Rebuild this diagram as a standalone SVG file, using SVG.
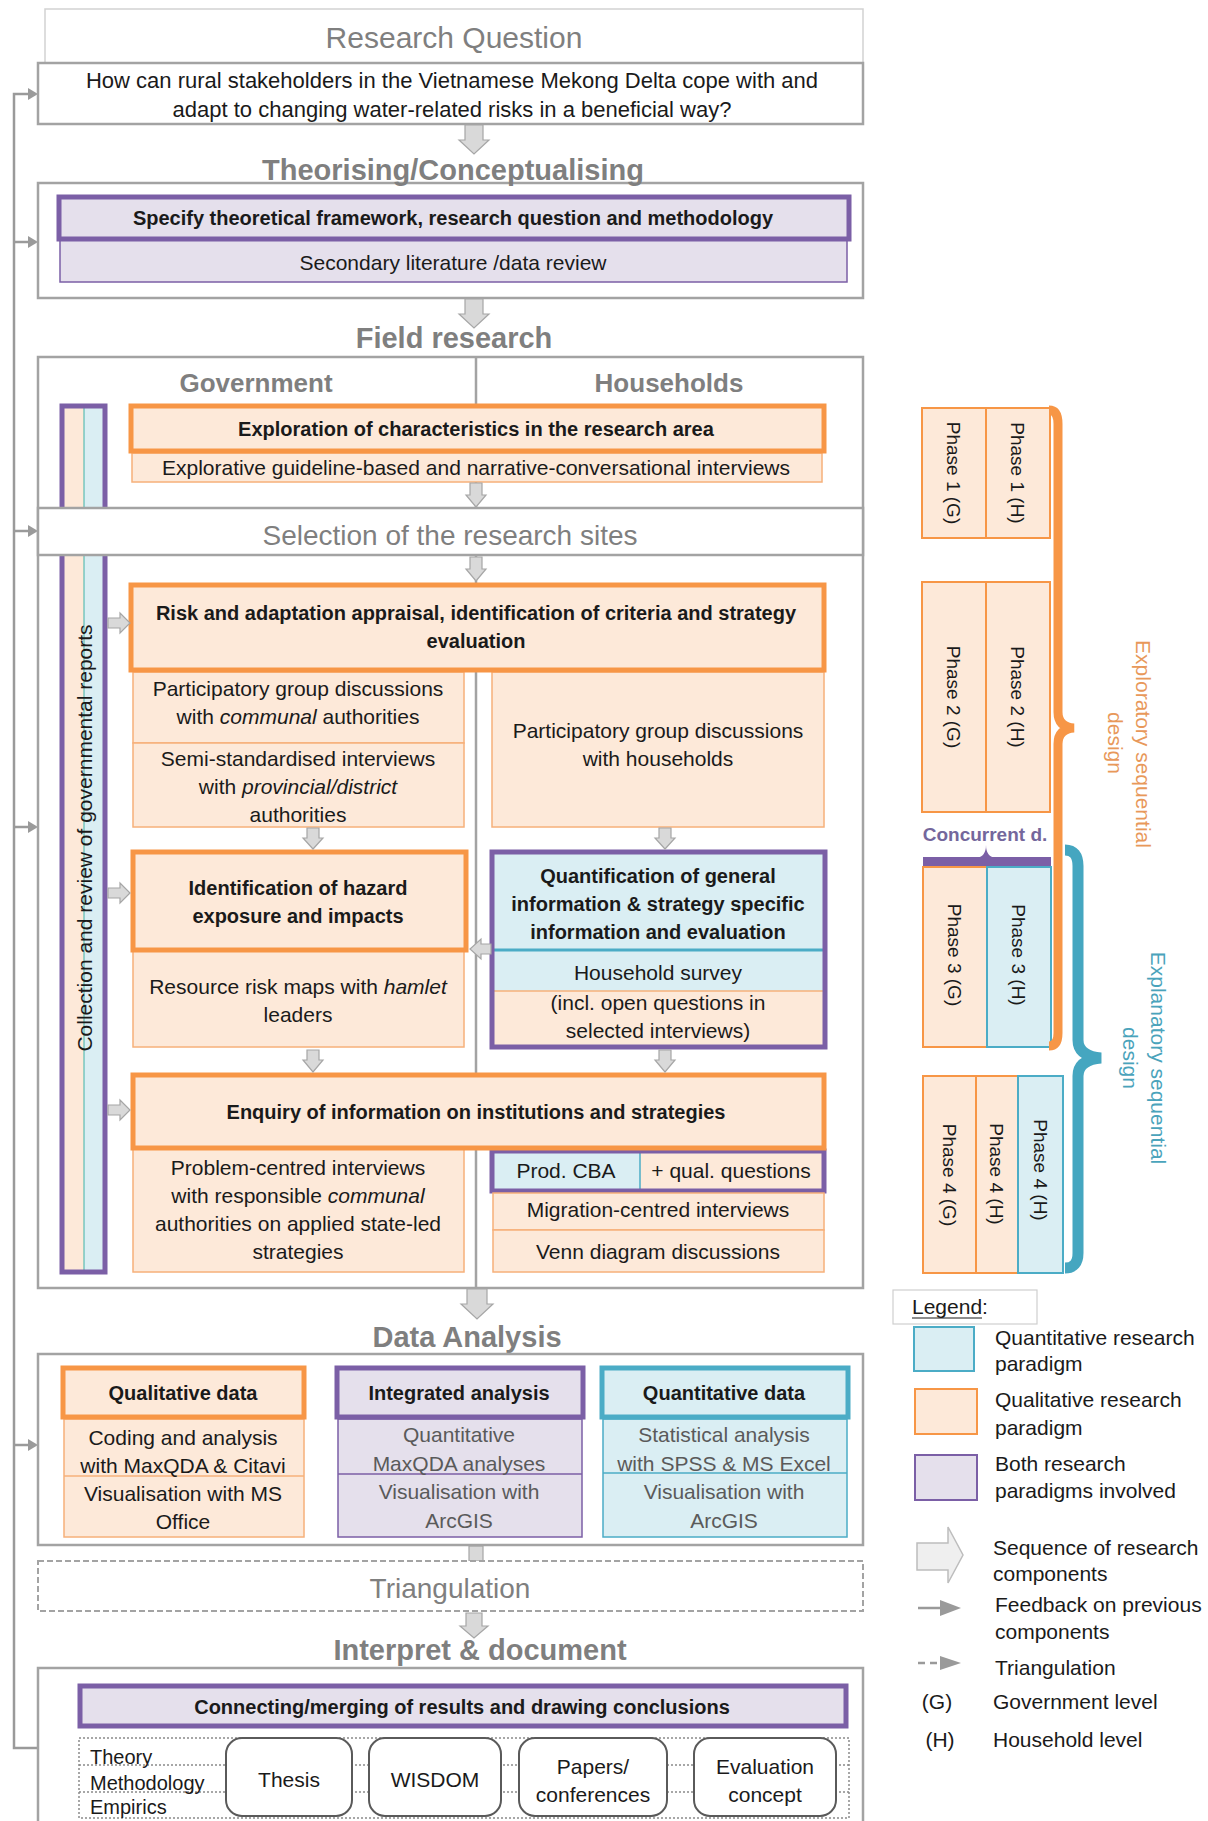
<svg xmlns="http://www.w3.org/2000/svg" width="1208" height="1821" viewBox="0 0 1208 1821">
<style>
text{font-family:"Liberation Sans",Arial,sans-serif;fill:#1a1a1a;text-anchor:middle}
.t{font-size:21px}
.b{font-size:20px;font-weight:bold}
.h{font-size:29px;font-weight:bold;fill:#7f7f7f}
.hr{font-size:29px;fill:#7f7f7f}
.hs{font-size:26px;font-weight:bold;fill:#7f7f7f}
.g{fill:#5a5a5a}
.ph{font-size:19px}
.lg{font-size:21px;text-anchor:start}
.box{fill:#fff;stroke:#a3a3a3;stroke-width:2.5}
.ohd{fill:#fde9d9;stroke:#f79646;stroke-width:5}
.osub{fill:#fde9d9;stroke:#f6b07a;stroke-width:1.5}
.phd{fill:#e5e0ec;stroke:#7b5fa6;stroke-width:5}
.psub{fill:#e5e0ec;stroke:#7b5fa6;stroke-width:1.5}
.bhd{fill:#daeef3;stroke:#4bacc6;stroke-width:5}
.bsub{fill:#daeef3;stroke:#4bacc6;stroke-width:1.5}
.arr{fill:#d9d9d9;stroke:#a6a6a6;stroke-width:1.2}
.fb{fill:none;stroke:#9a9a9a;stroke-width:2.5}
.fbh{fill:#9a9a9a}
.pho{fill:#fde9d9;stroke:#f79646;stroke-width:2}
.phb{fill:#daeef3;stroke:#4bacc6;stroke-width:2}
.rb{fill:#fff;stroke:#5a5a5a;stroke-width:2}
.dot{fill:none;stroke:#8a8a8a;stroke-width:1.5;stroke-dasharray:2 2}
</style>

<g id="connectors">
  <path class="fb" d="M38,1748 H14 V94 H30 M14,242 H30 M14,531 H30 M14,827 H30 M14,1445 H30"/>
  <polygon class="fbh" points="28,88 38,94 28,100"/>
  <polygon class="fbh" points="28,236 38,242 28,248"/>
  <polygon class="fbh" points="28,525 38,531 28,537"/>
  <polygon class="fbh" points="28,821 38,827 28,833"/>
  <polygon class="fbh" points="28,1439 38,1445 28,1451"/>
</g>

<g id="research-question">
  <rect x="45" y="9" width="818" height="54" fill="#fff" stroke="#d2d2d2" stroke-width="1.5"/>
  <text class="hr" x="454" y="48" style="font-size:30px">Research Question</text>
  <rect class="box" x="38" y="63" width="825" height="61"/>
  <text class="t" x="452" y="88" style="font-size:22px">How can rural stakeholders in the Vietnamese Mekong Delta cope with and</text>
  <text class="t" x="452" y="117" style="font-size:22px">adapt to changing water-related risks in a beneficial way?</text>
</g>

<g id="theorising">
  <rect class="box" x="38" y="183" width="825" height="115"/>
  <text class="h" x="453" y="180">Theorising/Conceptualising</text>
  <rect class="psub" x="60" y="240" width="787" height="42"/>
  <rect class="phd" x="59" y="197" width="790" height="42"/>
  <text class="b" x="453" y="225">Specify theoretical framework, research question and methodology</text>
  <text class="t" x="453" y="270">Secondary literature /data review</text>
</g>

<g id="field-research">
  <text class="h" x="454" y="348">Field research</text>
  <rect class="box" x="38" y="357" width="825" height="931"/>
  <line x1="476" y1="357" x2="476" y2="1288" stroke="#a3a3a3" stroke-width="2.5"/>
  <text class="hs" x="256" y="392">Government</text>
  <text class="hs" x="669" y="392">Households</text>
</g>

<g id="collection-bar">
  <rect x="63" y="407" width="21" height="864" fill="#fde9d9"/>
  <rect x="84" y="407" width="20" height="864" fill="#daeef3"/>
  <line x1="84" y1="407" x2="84" y2="1271" stroke="#3fb2a8" stroke-width="1"/>
  <rect x="62" y="406" width="43" height="866" fill="none" stroke="#7b5fa6" stroke-width="5"/>
  <text class="t" transform="translate(84,838) rotate(-90)" x="0" y="7.5">Collection and review of governmental reports</text>
</g>

<g id="exploration">
  <rect class="osub" x="132" y="453" width="690" height="29"/>
  <rect class="ohd" x="131" y="406" width="693" height="45"/>
  <text class="b" x="476" y="436">Exploration of characteristics in the research area</text>
  <text class="t" x="476" y="475">Explorative guideline-based and narrative-conversational interviews</text>
</g>

<g id="selection">
  <rect class="box" x="38" y="508" width="825" height="47"/>
  <text class="hr" x="450" y="545" style="font-size:28px">Selection of the research sites</text>
</g>

<g id="risk">
  <rect class="osub" x="133" y="672" width="331" height="71"/>
  <rect class="osub" x="133" y="743" width="331" height="84"/>
  <rect class="osub" x="492" y="672" width="332" height="155"/>
  <rect class="ohd" x="131" y="585" width="693" height="85"/>
  <text class="b" x="476" y="620">Risk and adaptation appraisal, identification of criteria and strategy</text>
  <text class="b" x="476" y="648">evaluation</text>
  <text class="t" x="298" y="696">Participatory group discussions</text>
  <text class="t" x="298" y="724">with <tspan font-style="italic">communal</tspan> authorities</text>
  <text class="t" x="298" y="766">Semi-standardised interviews</text>
  <text class="t" x="298" y="794">with <tspan font-style="italic">provincial/district</tspan></text>
  <text class="t" x="298" y="822">authorities</text>
  <text class="t" x="658" y="738">Participatory group discussions</text>
  <text class="t" x="658" y="766">with households</text>
</g>

<g id="identification">
  <rect class="osub" x="133" y="951" width="331" height="96"/>
  <rect class="ohd" x="133" y="852" width="333" height="98"/>
  <text class="b" x="298" y="895">Identification of hazard</text>
  <text class="b" x="298" y="923">exposure and impacts</text>
  <text class="t" x="298" y="994">Resource risk maps with <tspan font-style="italic">hamlet</tspan></text>
  <text class="t" x="298" y="1022">leaders</text>
</g>

<g id="quantification">
  <rect x="494" y="854" width="329" height="96" fill="#daeef3"/>
  <rect x="494" y="950" width="329" height="41" fill="#daeef3"/>
  <rect x="494" y="991" width="329" height="54" fill="#fde9d9"/>
  <line x1="494" y1="950" x2="823" y2="950" stroke="#4bacc6" stroke-width="3"/>
  <line x1="494" y1="991" x2="823" y2="991" stroke="#f6b07a" stroke-width="1.5"/>
  <rect x="492" y="852" width="333" height="195" fill="none" stroke="#7b5fa6" stroke-width="5"/>
  <text class="b" x="658" y="883">Quantification of general</text>
  <text class="b" x="658" y="911">information &amp; strategy specific</text>
  <text class="b" x="658" y="939">information and evaluation</text>
  <text class="t" x="658" y="980">Household survey</text>
  <text class="t" x="658" y="1010">(incl. open questions in</text>
  <text class="t" x="658" y="1038">selected interviews)</text>
</g>

<g id="enquiry">
  <rect class="osub" x="133" y="1149" width="331" height="123"/>
  <rect x="493" y="1152" width="147" height="38" fill="#daeef3"/>
  <rect x="640" y="1152" width="183" height="38" fill="#fde9d9"/>
  <line x1="640" y1="1152" x2="640" y2="1190" stroke="#4bacc6" stroke-width="1.5"/>
  <rect x="492" y="1151" width="332" height="40" fill="none" stroke="#7b5fa6" stroke-width="5"/>
  <rect class="osub" x="493" y="1193" width="331" height="37"/>
  <rect class="osub" x="493" y="1230" width="331" height="42"/>
  <rect class="ohd" x="133" y="1075" width="691" height="73"/>
  <text class="b" x="476" y="1119">Enquiry of information on institutions and strategies</text>
  <text class="t" x="298" y="1175">Problem-centred interviews</text>
  <text class="t" x="298" y="1203">with responsible <tspan font-style="italic">communal</tspan></text>
  <text class="t" x="298" y="1231">authorities on applied  state-led</text>
  <text class="t" x="298" y="1259">strategies</text>
  <text class="t" x="566" y="1178">Prod. CBA</text>
  <text class="t" x="731" y="1178">+ qual. questions</text>
  <text class="t" x="658" y="1217">Migration-centred interviews</text>
  <text class="t" x="658" y="1259">Venn diagram discussions</text>
</g>

<g id="block-arrows">
  <path class="arr" d="M465,125 H483 V140 H489 L474,154 L459,140 H465 Z"/>
  <path class="arr" d="M465,299 H483 V314 H489 L474,328 L459,314 H465 Z"/>
  <path class="arr" d="M470,483 H482 V495 H486 L476,507 L466,495 H470 Z"/>
  <path class="arr" d="M470,557 H482 V569 H486 L476,581 L466,569 H470 Z"/>
  <path class="arr" d="M307,828 H319 V838 H323 L313,849 L303,838 H307 Z"/>
  <path class="arr" d="M659,828 H671 V838 H675 L665,849 L655,838 H659 Z"/>
  <path class="arr" d="M307,1050 H319 V1060 H323 L313,1072 L303,1060 H307 Z"/>
  <path class="arr" d="M659,1050 H671 V1060 H675 L665,1072 L655,1060 H659 Z"/>
  <path class="arr" d="M108,618 H120 V613 L130,623 L120,633 V628 H108 Z"/>
  <path class="arr" d="M108,888 H120 V883 L130,893 L120,903 V898 H108 Z"/>
  <path class="arr" d="M108,1105 H120 V1100 L130,1110 L120,1120 V1115 H108 Z"/>
  <path class="arr" d="M491,944 H481 V939 L470,949 L481,959 V954 H491 Z"/>
  <path class="arr" d="M467,1289 H487 V1304 H493 L477,1319 L461,1304 H467 Z"/>
  <rect class="arr" x="469" y="1546" width="14" height="15"/>
  <path class="arr" d="M466,1613 H482 V1626 H488 L474,1638 L460,1626 H466 Z"/>
</g>

<g id="data-analysis">
  <text class="h" x="467" y="1347">Data Analysis</text>
  <rect class="box" x="38" y="1354" width="825" height="191"/>
  <rect class="osub" x="64" y="1419" width="240" height="118"/>
  <line x1="64" y1="1476" x2="304" y2="1476" stroke="#f6b07a" stroke-width="1.5"/>
  <rect class="ohd" x="63" y="1368" width="241" height="49"/>
  <text class="b" x="183" y="1400">Qualitative data</text>
  <text class="t" x="183" y="1445">Coding and analysis</text>
  <text class="t" x="183" y="1473">with MaxQDA &amp; Citavi</text>
  <text class="t" x="183" y="1501">Visualisation with MS</text>
  <text class="t" x="183" y="1529">Office</text>

  <rect class="psub" x="338" y="1419" width="244" height="118"/>
  <line x1="338" y1="1474" x2="582" y2="1474" stroke="#7b5fa6" stroke-width="1.5"/>
  <rect class="phd" x="337" y="1368" width="246" height="49"/>
  <text class="b" x="459" y="1400">Integrated analysis</text>
  <text class="t g" x="459" y="1442">Quantitative</text>
  <text class="t g" x="459" y="1471">MaxQDA analyses</text>
  <text class="t g" x="459" y="1499">Visualisation with</text>
  <text class="t g" x="459" y="1528">ArcGIS</text>

  <rect class="bsub" x="603" y="1419" width="244" height="118"/>
  <line x1="603" y1="1473" x2="847" y2="1473" stroke="#4bacc6" stroke-width="1.5"/>
  <rect class="bhd" x="602" y="1368" width="246" height="49"/>
  <text class="b" x="724" y="1400">Quantitative data</text>
  <text class="t g" x="724" y="1442">Statistical analysis</text>
  <text class="t g" x="724" y="1471">with SPSS &amp; MS Excel</text>
  <text class="t g" x="724" y="1499">Visualisation with</text>
  <text class="t g" x="724" y="1528">ArcGIS</text>
</g>

<g id="triangulation">
  <rect x="38" y="1561" width="825" height="50" fill="#fff" stroke="#a3a3a3" stroke-width="2" stroke-dasharray="6 3"/>
  <text class="hr" x="450" y="1598" style="font-size:28px">Triangulation</text>
</g>

<g id="interpret">
  <text class="h" x="480" y="1660">Interpret &amp; document</text>
  <rect class="box" x="38" y="1668" width="825" height="170"/>
  <rect class="phd" x="80" y="1686" width="766" height="40"/>
  <text class="b" x="462" y="1714">Connecting/merging of results and drawing conclusions</text>
  <rect class="dot" x="79" y="1738" width="770" height="80"/>
  <line class="dot" x1="79" y1="1765" x2="849" y2="1765"/>
  <line class="dot" x1="79" y1="1792" x2="849" y2="1792"/>
  <text class="t" x="90" y="1764" style="text-anchor:start;font-size:20px" fill="#333">Theory</text>
  <text class="t" x="90" y="1790" style="text-anchor:start;font-size:20px">Methodology</text>
  <text class="t" x="90" y="1814" style="text-anchor:start;font-size:20px">Empirics</text>
  <rect class="rb" x="226" y="1738" width="126" height="78" rx="16"/>
  <text class="t" x="289" y="1787">Thesis</text>
  <rect class="rb" x="369" y="1738" width="132" height="78" rx="16"/>
  <text class="t" x="435" y="1787">WISDOM</text>
  <rect class="rb" x="519" y="1738" width="148" height="78" rx="16"/>
  <text class="t" x="593" y="1774">Papers/</text>
  <text class="t" x="593" y="1802">conferences</text>
  <rect class="rb" x="694" y="1738" width="142" height="78" rx="16"/>
  <text class="t" x="765" y="1774">Evaluation</text>
  <text class="t" x="765" y="1802">concept</text>
</g>

<g id="phase-1">
  <rect class="pho" x="922" y="408" width="64" height="130"/>
  <rect class="pho" x="986" y="408" width="64" height="130"/>
  <text class="ph" transform="translate(954,473) rotate(90)" y="7">Phase 1 (G)</text>
  <text class="ph" transform="translate(1018,473) rotate(90)" y="7">Phase 1 (H)</text>
</g>
<g id="phase-2">
  <rect class="pho" x="922" y="582" width="64" height="230"/>
  <rect class="pho" x="986" y="582" width="64" height="230"/>
  <text class="ph" transform="translate(954,697) rotate(90)" y="7">Phase 2 (G)</text>
  <text class="ph" transform="translate(1018,697) rotate(90)" y="7">Phase 2 (H)</text>
</g>
<g id="concurrent">
  <text x="985" y="841" style="font-size:19px;font-weight:bold;fill:#74679c">Concurrent d.</text>
  <rect x="923" y="857" width="128" height="10" fill="#7b5fa6"/>
  <path d="M976,858 Q986,857 986,845 Q986,857 996,858 Z" fill="#7b5fa6"/>
</g>
<g id="phase-3">
  <rect class="pho" x="923" y="867" width="64" height="180"/>
  <rect class="phb" x="987" y="867" width="64" height="180"/>
  <text class="ph" transform="translate(955,955) rotate(90)" y="7">Phase 3 (G)</text>
  <text class="ph" transform="translate(1019,955) rotate(90)" y="7">Phase 3 (H)</text>
</g>
<g id="phase-4">
  <rect class="pho" x="923" y="1076" width="53" height="197"/>
  <rect class="pho" x="976" y="1076" width="42" height="197"/>
  <rect class="phb" x="1018" y="1076" width="45" height="197"/>
  <text class="ph" transform="translate(950,1175) rotate(90)" y="7">Phase 4 (G)</text>
  <text class="ph" transform="translate(997,1174) rotate(90)" y="7">Phase 4 (H)</text>
  <text class="ph" transform="translate(1041,1170) rotate(90)" y="7">Phase 4 (H)</text>
</g>
<g id="exploratory-brace">
  <path d="M1049,410 Q1058,410 1058,424 V712 Q1058,727 1074,728 Q1058,729 1058,744 V1033 Q1058,1046 1049,1046" fill="none" stroke="#f79646" stroke-width="9"/>
  <text transform="translate(1143,744) rotate(90)" y="7.5" style="font-size:21px;fill:#e8985a">Exploratory sequential</text>
  <text transform="translate(1115,743) rotate(90)" y="7.5" style="font-size:21px;fill:#e8985a">design</text>
</g>
<g id="explanatory-brace">
  <path d="M1065,850 Q1078,850 1078,866 V1040 Q1078,1056 1101,1058 Q1078,1060 1078,1076 V1253 Q1078,1268 1065,1268" fill="none" stroke="#45a6c0" stroke-width="11"/>
  <text transform="translate(1158,1058) rotate(90)" y="7.5" style="font-size:21px;fill:#4aa3bb">Explanatory sequential</text>
  <text transform="translate(1130,1058) rotate(90)" y="7.5" style="font-size:21px;fill:#4aa3bb">design</text>
</g>

<g id="legend">
  <rect x="893" y="1290" width="144" height="34" fill="#fff" stroke="#cfcfcf" stroke-width="1.2"/>
  <text class="lg" x="912" y="1314">Legend:</text>
  <line x1="912" y1="1318" x2="982" y2="1318" stroke="#1a1a1a" stroke-width="1.2"/>
  <rect x="914" y="1327" width="60" height="44" fill="#daeef3" stroke="#4bacc6" stroke-width="2"/>
  <text class="lg" x="995" y="1345">Quantitative research</text>
  <text class="lg" x="995" y="1371">paradigm</text>
  <rect x="915" y="1389" width="62" height="45" fill="#fde9d9" stroke="#f79646" stroke-width="2"/>
  <text class="lg" x="995" y="1407">Qualitative research</text>
  <text class="lg" x="995" y="1435">paradigm</text>
  <rect x="915" y="1455" width="62" height="45" fill="#e5e0ec" stroke="#7b5fa6" stroke-width="2"/>
  <text class="lg" x="995" y="1471">Both research</text>
  <text class="lg" x="995" y="1498">paradigms involved</text>
  <path d="M917,1543 H948 V1527 L963,1555 L948,1583 V1570 H917 Z" fill="#efefef" stroke="#bdbdbd" stroke-width="1.5"/>
  <text class="lg" x="993" y="1555">Sequence of research</text>
  <text class="lg" x="993" y="1581">components</text>
  <line x1="918" y1="1608" x2="942" y2="1608" stroke="#9a9a9a" stroke-width="2.5"/>
  <polygon points="940,1600 961,1608 940,1616" fill="#9a9a9a"/>
  <text class="lg" x="995" y="1612">Feedback on previous</text>
  <text class="lg" x="995" y="1639">components</text>
  <line x1="918" y1="1663" x2="940" y2="1663" stroke="#9a9a9a" stroke-width="2.5" stroke-dasharray="7 5"/>
  <polygon points="940,1656 961,1663 940,1670" fill="#9a9a9a"/>
  <text class="lg" x="995" y="1675">Triangulation</text>
  <text x="937" y="1709" style="font-size:21px">(G)</text>
  <text class="lg" x="993" y="1709">Government level</text>
  <text x="940" y="1747" style="font-size:21px">(H)</text>
  <text class="lg" x="993" y="1747">Household level</text>
</g>
</svg>
